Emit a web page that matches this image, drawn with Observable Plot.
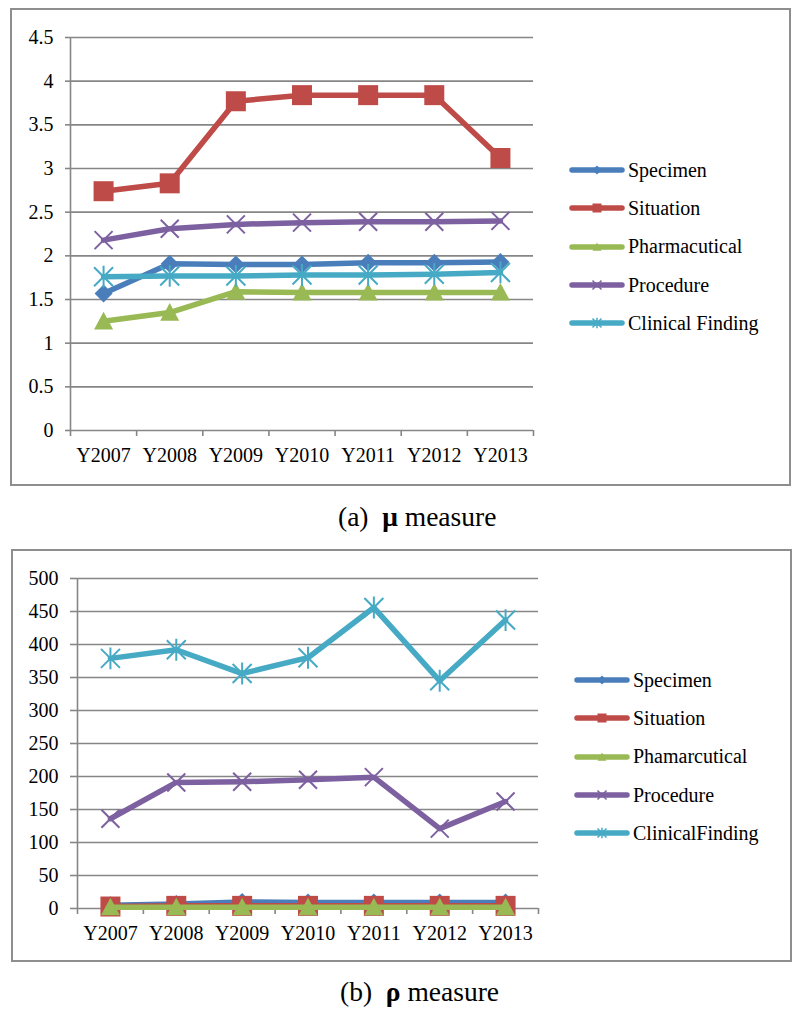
<!DOCTYPE html>
<html>
<head>
<meta charset="utf-8">
<script src="https://cdn.jsdelivr.net/npm/d3@7"></script>
<script src="https://cdn.jsdelivr.net/npm/@observablehq/plot@0.6"></script>
<style>
  html, body { margin: 0; padding: 0; background: #fff; }
  #page { position: relative; width: 800px; height: 1019px; font-family: "Liberation Serif", "Tinos", "Times New Roman", "DejaVu Serif", serif; color: #000; }
  .box { position: absolute; border: 2px solid #8e8e8e; box-sizing: border-box; }
  .chart { position: absolute; left: 0; }
  .legend { position: absolute; font-size: 20px; }
  .legend .row { height: 38.3px; display: flex; align-items: center; white-space: nowrap; }
  .legend svg { display: block; margin-right: 3px; }
  .caption { position: absolute; font-size: 27.5px; line-height: 30px; white-space: pre; }
</style>
</head>
<body>
<div id="page"></div>
<script>
// ---------- data ----------
const years = ["Y2007", "Y2008", "Y2009", "Y2010", "Y2011", "Y2012", "Y2013"];

const seriesA = ["Specimen", "Situation", "Pharmacutical", "Procedure", "Clinical Finding"];
const muSpecimen   = [1.57, 1.91, 1.90, 1.90, 1.92, 1.92, 1.93];
const muSituation  = [2.74, 2.83, 3.77, 3.84, 3.84, 3.84, 3.12];
const muPharma     = [1.25, 1.35, 1.59, 1.58, 1.58, 1.58, 1.58];
const muProcedure  = [2.18, 2.31, 2.36, 2.38, 2.39, 2.39, 2.40];
const muClinical   = [1.76, 1.77, 1.77, 1.78, 1.78, 1.79, 1.81];

const seriesB = ["Specimen", "Situation", "Phamarcutical", "Procedure", "ClinicalFinding"];
const rhoSpecimen  = [5, 7, 10, 9, 9, 9, 9];
const rhoSituation = [3, 4, 4, 4, 4, 4, 4];
const rhoPharma    = [2, 2, 2, 2, 2, 2, 2];
const rhoProcedure = [136, 191, 192, 195, 199, 121, 162];
const rhoClinical  = [379, 392, 356, 380, 456, 345, 437];

const ticksA = [0, 0.5, 1, 1.5, 2, 2.5, 3, 3.5, 4, 4.5];
const ticksB = [0, 50, 100, 150, 200, 250, 300, 350, 400, 450, 500];

// ---------- styles ----------
const colors = ["#4A7EBB", "#BE4B48", "#98B954", "#7D60A0", "#46AAC5"];
const gridColor = "#868686";
const serif = "'Liberation Serif', 'Tinos', 'Times New Roman', 'DejaVu Serif', serif";

const rad = size => Math.sqrt(size / Math.PI);
const symDiamond = {draw(c, s) { const r = rad(s); c.moveTo(0, -r); c.lineTo(r, 0); c.lineTo(0, r); c.lineTo(-r, 0); c.closePath(); }};
const symSquare = {draw(c, s) { const r = rad(s); c.rect(-r, -r, 2 * r, 2 * r); }};
const symTriangle = {draw(c, s) { const r = rad(s); c.moveTo(0, -r); c.lineTo(r, r * 0.85); c.lineTo(-r, r * 0.85); c.closePath(); }};
const symTimes = {draw(c, s) { const r = rad(s); c.moveTo(-r, -r); c.lineTo(r, r); c.moveTo(r, -r); c.lineTo(-r, r); }};
const symStar = {draw(c, s) { const r = rad(s); c.moveTo(-r, -r); c.lineTo(r, r); c.moveTo(r, -r); c.lineTo(-r, r); c.moveTo(0, -r * 1.15); c.lineTo(0, r * 1.15); }};
const symbols = [symDiamond, symSquare, symTriangle, symTimes, symStar];
const filled = [true, true, true, false, false];
const sizes = [9, 10, 9.5, 9, 9.5];

function seriesMarks(names, arrays) {
  const marks = [];
  names.forEach((name, k) => {
    const rows = years.map((yr, i) => ({x: i + 0.5, y: arrays[k][i], s: name}));
    marks.push(Plot.line(rows, {x: "x", y: "y", stroke: colors[k], strokeWidth: 5.5, strokeLinejoin: "round", strokeLinecap: "round"}));
    marks.push(Plot.dot(rows, {
      x: "x", y: "y", symbol: symbols[k], r: sizes[k],
      fill: filled[k] ? colors[k] : "none",
      stroke: filled[k] ? "none" : colors[k],
      strokeWidth: filled[k] ? 0 : 2
    }));
  });
  return marks;
}

function makeChart({height, yDomain, yTicks, margins, yTickSize, names, arrays}) {
  return Plot.plot({
    width: 800,
    height,
    marginLeft: margins[0], marginRight: margins[1], marginTop: margins[2], marginBottom: margins[3],
    style: {fontFamily: serif, fontSize: "20px", color: "#000", background: "transparent", overflow: "visible"},
    x: {type: "linear", domain: [0, years.length], label: null},
    y: {domain: yDomain, label: null},
    marks: [
      Plot.gridY(yTicks, {stroke: gridColor, strokeOpacity: 1, strokeWidth: 1.6}),
      Plot.ruleX([0], {stroke: gridColor, strokeWidth: 1.6}),
      Plot.axisY(yTicks, {label: null, tickSize: yTickSize, tickPadding: 12, stroke: gridColor, strokeWidth: 1.6, tickFormat: d => String(d), fill: "#000"}),
      Plot.axisX(d3.range(years.length + 1), {label: null, tickSize: 6, stroke: gridColor, strokeWidth: 1.6, tickFormat: () => ""}),
      Plot.axisX(years.map((_, i) => i + 0.5), {label: null, tickSize: 0, tickPadding: 17, tickFormat: d => years[d - 0.5], fill: "#000"}),
      ...seriesMarks(names, arrays)
    ]
  });
}

function legendSwatch(k) {
  const ns = "http://www.w3.org/2000/svg";
  const svg = document.createElementNS(ns, "svg");
  svg.setAttribute("width", 56); svg.setAttribute("height", 16);
  const line = document.createElementNS(ns, "line");
  line.setAttribute("x1", 3); line.setAttribute("x2", 53); line.setAttribute("y1", 8); line.setAttribute("y2", 8);
  line.setAttribute("stroke", colors[k]); line.setAttribute("stroke-width", 5.5); line.setAttribute("stroke-linecap", "round");
  svg.appendChild(line);
  const p = d3.path();
  symbols[k].draw(p, Math.PI * 4.5 * 4.5);
  const path = document.createElementNS(ns, "path");
  path.setAttribute("d", p.toString());
  path.setAttribute("transform", "translate(28,8)");
  if (filled[k]) path.setAttribute("fill", colors[k]);
  else { path.setAttribute("fill", "none"); path.setAttribute("stroke", colors[k]); path.setAttribute("stroke-width", 1.5); }
  svg.appendChild(path);
  return svg;
}

function addLegend(page, names, left, top) {
  const lg = document.createElement("div");
  lg.className = "legend";
  lg.style.left = left + "px"; lg.style.top = top + "px";
  names.forEach((n, k) => {
    const row = document.createElement("div");
    row.className = "row";
    row.appendChild(legendSwatch(k));
    const t = document.createElement("span");
    t.textContent = n;
    row.appendChild(t);
    lg.appendChild(row);
  });
  page.appendChild(lg);
}

const page = document.getElementById("page");

// ---------- chart (a) ----------
const chartA = makeChart({
  height: 477, yDomain: [0, 4.5], yTicks: ticksA, margins: [70, 267, 29, 55], yTickSize: 5,
  names: seriesA, arrays: [muSpecimen, muSituation, muPharma, muProcedure, muClinical]
});
chartA.classList.add("chart");
chartA.style.top = "8px";
page.appendChild(chartA);
const boxA = document.createElement("div");
boxA.className = "box";
Object.assign(boxA.style, {left: "10px", top: "8px", width: "781px", height: "478px"});
page.appendChild(boxA);
addLegend(page, seriesA, 569, 151);

const capA = document.createElement("div");
capA.className = "caption";
capA.style.left = "338px"; capA.style.top = "502px";
capA.innerHTML = "(a)  <b>μ</b> measure";
page.appendChild(capA);

// ---------- chart (b) ----------
const chartB = makeChart({
  height: 412, yDomain: [0, 500], yTicks: ticksB, margins: [77, 262, 29, 53], yTickSize: 7,
  names: seriesB, arrays: [rhoSpecimen, rhoSituation, rhoPharma, rhoProcedure, rhoClinical]
});
chartB.classList.add("chart");
chartB.style.top = "549px";
page.appendChild(chartB);
const boxB = document.createElement("div");
boxB.className = "box";
Object.assign(boxB.style, {left: "11px", top: "549px", width: "781px", height: "413px"});
page.appendChild(boxB);
addLegend(page, seriesB, 574, 661);

const capB = document.createElement("div");
capB.className = "caption";
capB.style.left = "340px"; capB.style.top = "977px";
capB.innerHTML = "(b)  <b>ρ</b> measure";
page.appendChild(capB);
</script>
</body>
</html>
